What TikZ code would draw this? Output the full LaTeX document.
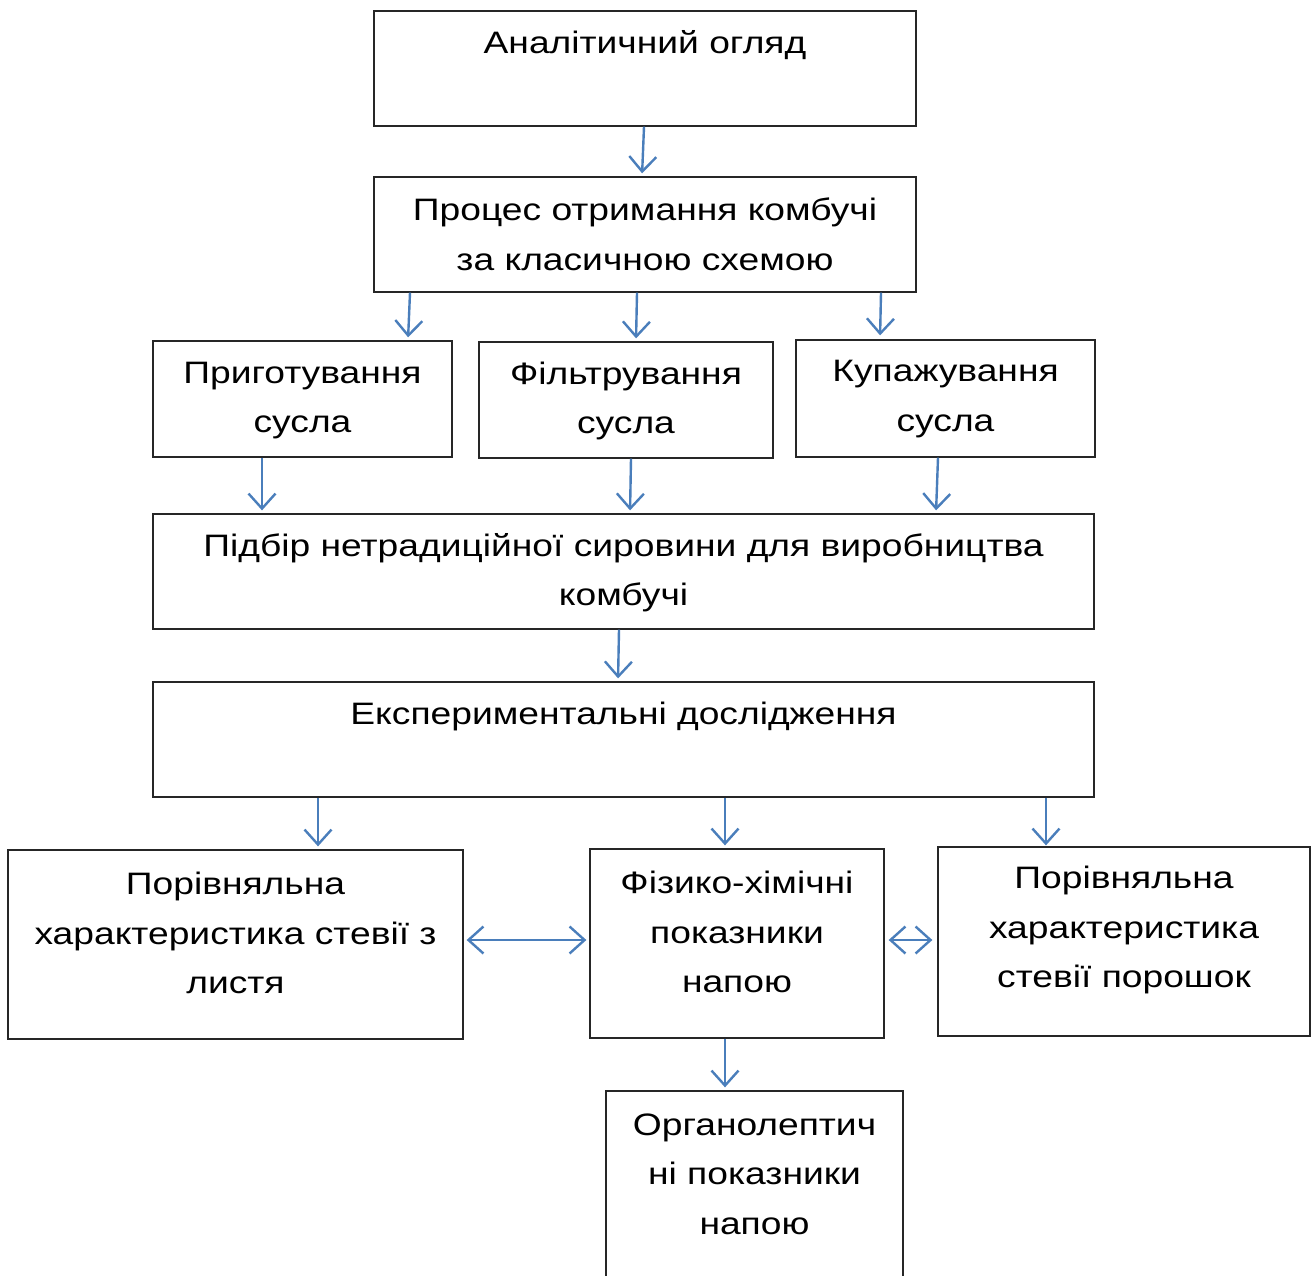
\documentclass[tikz,border=0pt]{standalone}
\usepackage{fontspec}
\setmainfont[FakeStretch=1.2]{Liberation Sans}
\usetikzlibrary{arrows.meta}
\definecolor{arrblue}{HTML}{4A7EBB}
\definecolor{boxline}{HTML}{262626}
\begin{document}
\begin{tikzpicture}[x=1pt,y=-1pt,
  box/.style={draw=boxline,line width=1.3pt,rectangle,inner sep=0pt},
  txt/.style={align=center,inner sep=0pt,font=\fontsize{31}{49.5}\selectfont},
  tip/.style={},
  arr/.style={draw=arrblue,line width=2.4pt,-{Straight Barb[length=15pt,width=27pt,line width=2.4pt]}},
  darr/.style={draw=arrblue,line width=2.4pt,{Straight Barb[length=15pt,width=27pt,line width=2.4pt]}-{Straight Barb[length=15pt,width=27pt,line width=2.4pt]}}]
\clip (0,0) rectangle (1316,1275);
\fill[white] (0,0) rectangle (1316,1275);
% boxes
\node[box,minimum width=542pt,minimum height=115pt] (a) at (645,68.5) {};
\node[txt] (ta) at (645,45) {Аналітичний огляд};
\node[box,minimum width=542pt,minimum height=115pt] (b) at (645,234.5) {};
\node[txt] (tb) at (645,234.5) {Процес отримання комбучі\\за класичною схемою};
\node[box,minimum width=299pt,minimum height=116pt] (c1) at (302.5,399) {};
\node[txt] (tc1) at (302.5,400.5) {Приготування\\сусла};
\node[box,minimum width=294pt,minimum height=116pt] (c2) at (626,400) {};
\node[txt] (tc2) at (626,401) {Фільтрування\\сусла};
\node[box,minimum width=299pt,minimum height=117pt] (c3) at (945.5,398.5) {};
\node[txt] (tc3) at (945.5,399) {Купажування\\сусла};
\node[box,minimum width=941pt,minimum height=115pt] (d) at (623.5,571.5) {};
\node[txt] (td) at (623.5,572.5) {Підбір нетрадиційної сировини для виробництва\\комбучі};
\node[box,minimum width=941pt,minimum height=115pt] (e) at (623.5,739.5) {};
\node[txt] (te) at (623.5,716) {Експериментальні дослідження};
\node[box,minimum width=455pt,minimum height=189pt] (f1) at (235.5,944.5) {};
\node[txt] (tf1) at (235.5,933) {Порівняльна\\характеристика стевії з\\листя};
\node[box,minimum width=294pt,minimum height=189pt] (f2) at (737,943.5) {};
\node[txt] (tf2) at (737,932) {Фізико-хімічні\\показники\\напою};
\node[box,minimum width=372pt,minimum height=189pt] (f3) at (1124,941.5) {};
\node[txt] (tf3) at (1124,930) {Порівняльна\\характеристика\\стевії порошок};
\node[box,minimum width=297pt,minimum height=209pt] (g) at (754.5,1195.5) {};
\node[txt] (tg) at (754.5,1174) {Органолептич\\ні показники\\напою};
% arrows
\draw[arr,shorten >=3pt] (a.south -| 644,0) -- (b.north -| 642,0);
\draw[arr,shorten >=3pt] (b.south -| 410,0) -- (c1.north -| 408,0);
\draw[arr,shorten >=3pt] (b.south -| 637,0) -- (c2.north -| 636,0);
\draw[arr,shorten >=4pt] (b.south -| 881,0) -- (c3.north -| 880,0);
\draw[arr,shorten >=3pt] (c1.south -| 262,0) -- (d.north -| 262,0);
\draw[arr,shorten >=3pt] (c2.south -| 631,0) -- (d.north -| 630,0);
\draw[arr,shorten >=3pt] (c3.south -| 938,0) -- (d.north -| 936,0);
\draw[arr,shorten >=3pt] (d.south -| 619,0) -- (e.north -| 618,0);
\draw[arr,shorten >=3pt] (e.south -| 318,0) -- (f1.north -| 318,0);
\draw[arr,shorten >=3pt] (e.south -| 725,0) -- (f2.north -| 725,0);
\draw[arr,shorten >=1pt] (e.south -| 1046,0) -- (f3.north -| 1046,0);
\draw[arr,shorten >=3pt] (f2.south -| 725,0) -- (g.north -| 725,0);
\draw[darr,shorten >=3pt,shorten <=3pt] (f1.east |- 0,940) -- (f2.west |- 0,940);
\draw[darr,shorten >=5pt,shorten <=4pt] (f2.east |- 0,940) -- (f3.west |- 0,940);
\end{tikzpicture}
\end{document}
